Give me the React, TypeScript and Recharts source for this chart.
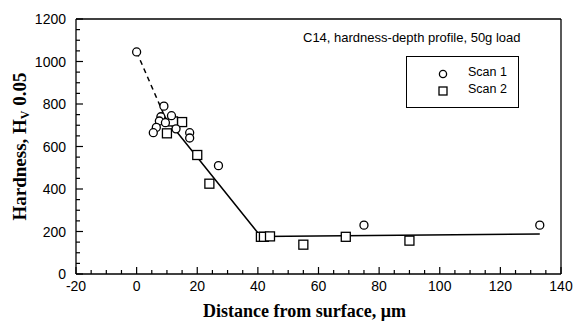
import { ScatterChart, Scatter, XAxis, YAxis } from "recharts";

// Scan 1 (circles)
const scan1Depth = [0, 9, 8, 11.5, 7.5, 9.5, 6.5, 5.5, 13, 17.5, 17.5, 27, 75, 133];
const scan1Hardness = [1045, 790, 740, 745, 720, 712, 690, 665, 683, 665, 640, 510, 230, 230];

// Scan 2 (squares)
const scan2Depth = [10, 12, 15, 20, 24, 41, 42, 44, 55, 69, 90];
const scan2Hardness = [662, 718, 715, 560, 425, 175, 175, 177, 138, 175, 157];

// fitted lines
const dashDepth = [0, 9];
const dashHardness = [1045, 750];
const fitDepth = [9, 41, 133];
const fitHardness = [745, 176, 188];

const xTicks = [-20, 0, 20, 40, 60, 80, 100, 120, 140];
const yTicks = [0, 200, 400, 600, 800, 1000, 1200];
const xMinorStep = 5;
const yMinorStep = 50;

const xAll: number[] = [];
for (let v = -20; v <= 140; v += xMinorStep) xAll.push(v);
const yAll: number[] = [];
for (let v = 0; v <= 1200; v += yMinorStep) yAll.push(v);

const zip = (xs: number[], ys: number[]) => xs.map((x, i) => ({ x, y: ys[i] }));

const scan1 = zip(scan1Depth, scan1Hardness);
const scan2 = zip(scan2Depth, scan2Hardness);
const dashLine = zip(dashDepth, dashHardness);
const fitLine = zip(fitDepth, fitHardness);

const SANS = "Arial, 'Liberation Sans', Helvetica, sans-serif";
const SERIF = "'Liberation Serif', 'Times New Roman', Times, serif";
const MAJOR = 7;
const MINOR = 4;

const BottomTick = (props: any) => {
  const { x, y, payload } = props;
  const major = xTicks.includes(payload.value);
  return (
    <g>
      <line x1={x} x2={x} y1={y} y2={y - (major ? MAJOR : MINOR)} stroke="#000" strokeWidth={1.2} />
      {major && (
        <text x={x} y={y + 17} textAnchor="middle" fontSize={14} fontFamily={SANS} fill="#000">
          {payload.value}
        </text>
      )}
    </g>
  );
};

const TopTick = (props: any) => {
  const { x, y, payload } = props;
  const major = xTicks.includes(payload.value);
  return <line x1={x} x2={x} y1={y} y2={y + (major ? MAJOR : MINOR)} stroke="#000" strokeWidth={1.2} />;
};

const LeftTick = (props: any) => {
  const { x, y, payload } = props;
  const major = yTicks.includes(payload.value);
  return (
    <g>
      <line x1={x} x2={x + (major ? MAJOR : MINOR)} y1={y} y2={y} stroke="#000" strokeWidth={1.2} />
      {major && (
        <text x={x - 10} y={y + 5} textAnchor="end" fontSize={14} fontFamily={SANS} fill="#000">
          {payload.value}
        </text>
      )}
    </g>
  );
};

const RightTick = (props: any) => {
  const { x, y, payload } = props;
  const major = yTicks.includes(payload.value);
  return <line x1={x} x2={x - (major ? MAJOR : MINOR)} y1={y} y2={y} stroke="#000" strokeWidth={1.2} />;
};

const XTitle = (props: any) => {
  const { viewBox } = props;
  return (
    <text
      x={viewBox.x + viewBox.width / 2 - 14}
      y={viewBox.y + 43}
      textAnchor="middle"
      fontSize={18}
      fontWeight="bold"
      fontFamily={SERIF}
      fill="#000"
    >
      Distance from surface, μm
    </text>
  );
};

const YTitle = (props: any) => {
  const { viewBox } = props;
  const cx = 26;
  const cy = viewBox.y + viewBox.height / 2;
  return (
    <text
      x={cx}
      y={cy}
      transform={`rotate(-90, ${cx}, ${cy})`}
      textAnchor="middle"
      fontSize={19}
      fontWeight="bold"
      fontFamily={SERIF}
      fill="#000"
    >
      Hardness, H
      <tspan fontSize={12} dy={3}>V</tspan>
      <tspan dy={-3}> 0.05</tspan>
    </text>
  );
};

const Circle = (props: any) => (
  <circle cx={props.cx} cy={props.cy} r={4} fill="#fff" stroke="#000" strokeWidth={1.3} />
);
const Square = (props: any) => (
  <rect x={props.cx - 4.5} y={props.cy - 4.5} width={9} height={9} fill="#fff" stroke="#000" strokeWidth={1.3} />
);
const NoDot = () => <g />;

export default function App() {
  return (
    <div style={{ position: "absolute", left: 0, top: 0, width: 575, height: 326, background: "#fff" }}>
      <ScatterChart width={575} height={326} margin={{ top: 0, right: 0, bottom: 0, left: 0 }}>
        <XAxis
          type="number"
          dataKey="x"
          domain={[-20, 140]}
          ticks={xAll}
          interval={0}
          height={52}
          tickSize={0}
          tickMargin={0}
          tickLine={false}
          axisLine={{ stroke: "#000", strokeWidth: 1.3 }}
          tick={<BottomTick />}
          label={<XTitle />}
        />
        <XAxis
          xAxisId="top"
          orientation="top"
          type="number"
          domain={[-20, 140]}
          ticks={xAll}
          interval={0}
          height={19}
          tickSize={0}
          tickMargin={0}
          tickLine={false}
          axisLine={{ stroke: "#000", strokeWidth: 1.3 }}
          tick={<TopTick />}
        />
        <YAxis
          type="number"
          dataKey="y"
          domain={[0, 1200]}
          ticks={yAll}
          interval={0}
          width={76}
          tickSize={0}
          tickMargin={0}
          tickLine={false}
          axisLine={{ stroke: "#000", strokeWidth: 1.3 }}
          tick={<LeftTick />}
          label={<YTitle />}
        />
        <YAxis
          yAxisId="right"
          orientation="right"
          type="number"
          domain={[0, 1200]}
          ticks={yAll}
          interval={0}
          width={14}
          tickSize={0}
          tickMargin={0}
          tickLine={false}
          axisLine={{ stroke: "#000", strokeWidth: 1.3 }}
          tick={<RightTick />}
        />
        <Scatter
          data={dashLine}
          line={{ stroke: "#000", strokeWidth: 1.5, strokeDasharray: "5 4" }}
          shape={<NoDot />}
          isAnimationActive={false}
        />
        <Scatter
          data={fitLine}
          line={{ stroke: "#000", strokeWidth: 1.5 }}
          shape={<NoDot />}
          isAnimationActive={false}
        />
        <Scatter name="Scan 2" data={scan2} shape={<Square />} isAnimationActive={false} />
        <Scatter name="Scan 1" data={scan1} shape={<Circle />} isAnimationActive={false} />
      </ScatterChart>

      <div
        style={{
          position: "absolute",
          left: 303,
          top: 30,
          fontFamily: SANS,
          fontSize: 13,
          color: "#000",
          whiteSpace: "nowrap",
        }}
      >
        C14, hardness-depth profile, 50g load
      </div>

      <div
        style={{
          position: "absolute",
          left: 406,
          top: 56,
          width: 111,
          height: 50,
          border: "1.5px solid #000",
          fontFamily: SANS,
          fontSize: 12.5,
          color: "#000",
        }}
      >
        <svg width={10} height={10} style={{ position: "absolute", left: 31, top: 12 }}>
          <circle cx={5} cy={5} r={3.6} fill="#fff" stroke="#000" strokeWidth={1.3} />
        </svg>
        <div style={{ position: "absolute", left: 61, top: 8, lineHeight: "15px" }}>Scan 1</div>
        <svg width={10} height={10} style={{ position: "absolute", left: 31, top: 29 }}>
          <rect x={1} y={1} width={8} height={8} fill="#fff" stroke="#000" strokeWidth={1.3} />
        </svg>
        <div style={{ position: "absolute", left: 61, top: 25, lineHeight: "15px" }}>Scan 2</div>
      </div>
    </div>
  );
}
